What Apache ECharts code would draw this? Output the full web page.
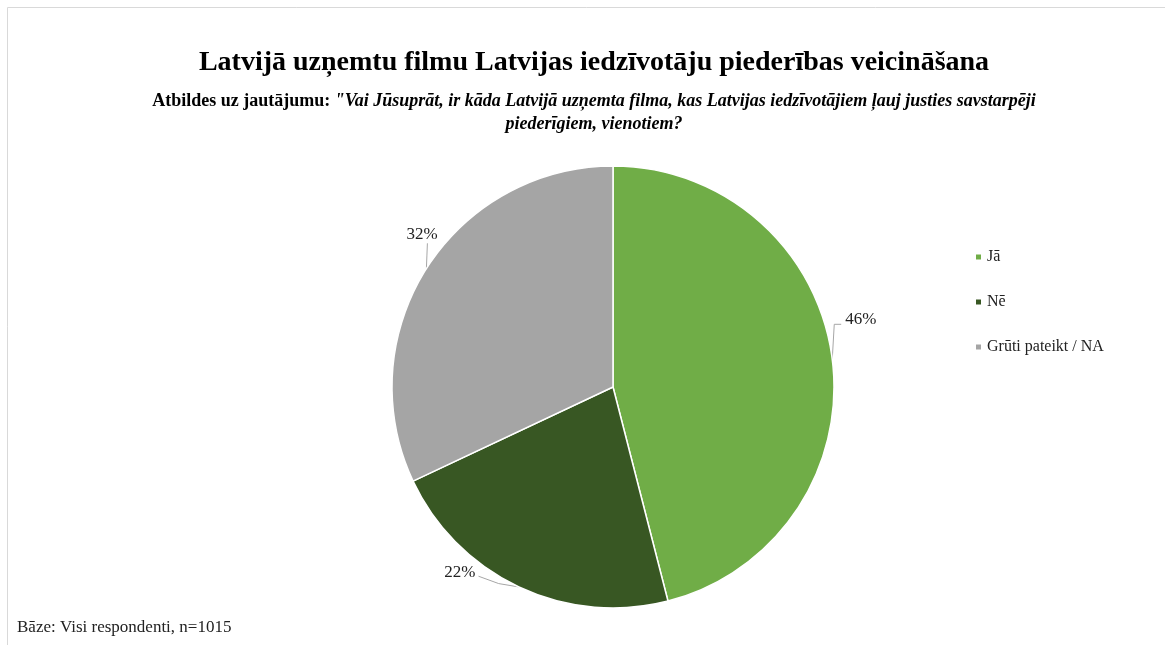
<!DOCTYPE html>
<html>
<head>
<meta charset="utf-8">
<script src="https://cdn.jsdelivr.net/npm/echarts@6/dist/echarts.min.js"></script>
<style>
html,body{margin:0;padding:0;background:#fff;}
#chart{width:1165px;height:645px;}
</style>
</head>
<body>
<div id="chart"></div>
<script>
// ---- data ----
const categories = ['Jā', 'Nē', 'Grūti pateikt / NA'];
const values = [46, 22, 32];
const titleText = 'Latvijā uzņemtu filmu Latvijas iedzīvotāju piederības veicināšana';
const subtitlePrefix = 'Atbildes uz jautājumu: ';
const subtitleQuote1 = '"Vai Jūsuprāt, ir kāda Latvijā uzņemta filma, kas Latvijas iedzīvotājiem ļauj justies savstarpēji';
const subtitleQuote2 = 'piederīgiem, vienotiem?';
const footnote = 'Bāze: Visi respondenti, n=1015';

// ---- styling ----
const colors = ['#70AD47', '#385723', '#A5A5A5'];
const serif = '"Liberation Serif", "Times New Roman", serif';
// label nudges relative to ECharts' default outside position, and leader-line style per slice
const labelNudge = [[-10, -39], [-25, -22], [33, -30]];
const leaderKind = ['up-right', 'left', 'up'];

function leaderPoints(kind, p0, r) {
  const cy = r.y + r.height / 2;
  if (kind === 'up-right') {
    return [p0, [p0[0] + 2, cy + 5], [r.x - 4, cy + 5]];
  } else if (kind === 'up') {
    return [p0, [p0[0] + 0.5, (p0[1] + cy + 9) / 2], [p0[0] + 1, cy + 9]];
  }
  return [p0, [(p0[0] + r.x + r.width + 3) / 2, (p0[1] + cy + 4) / 2 + 2], [r.x + r.width + 3, cy + 4]];
}

const chart = echarts.init(document.getElementById('chart'), null, {renderer: 'canvas'});
chart.setOption({
  animation: false,
  color: colors,
  legend: {
    orient: 'vertical',
    left: 969,
    top: 244,
    itemWidth: 7,
    itemHeight: 7,
    itemGap: 29,
    icon: 'rect',
    textStyle: {fontFamily: serif, fontSize: 16, color: '#222'},
    data: categories
  },
  graphic: [
    {type: 'line', shape: {x1: 7.5, y1: 7.5, x2: 1165, y2: 7.5}, style: {stroke: '#d9d9d9', lineWidth: 1}},
    {type: 'line', shape: {x1: 7.5, y1: 7.5, x2: 7.5, y2: 645}, style: {stroke: '#d9d9d9', lineWidth: 1}},
    {type: 'text', x: 594, y: 63, style: {text: titleText, align: 'center', verticalAlign: 'middle', font: 'bold 28px ' + serif, fill: '#000'}},
    {type: 'text', x: 594, y: 101, style: {
      text: '{b|' + subtitlePrefix + '}{bi|' + subtitleQuote1 + '}',
      align: 'center', verticalAlign: 'middle',
      rich: {
        b: {fontFamily: serif, fontSize: 18, fontWeight: 'bold', fill: '#000'},
        bi: {fontFamily: serif, fontSize: 18, fontWeight: 'bold', fontStyle: 'italic', fill: '#000'}
      }
    }},
    {type: 'text', x: 594, y: 124, style: {text: subtitleQuote2, align: 'center', verticalAlign: 'middle', font: 'italic bold 18px ' + serif, fill: '#000'}},
    {type: 'text', x: 17, y: 628, style: {text: footnote, align: 'left', verticalAlign: 'middle', font: '17px ' + serif, fill: '#222'}}
  ],
  series: [{
    type: 'pie',
    center: [613, 387],
    radius: 221,
    startAngle: 90,
    clockwise: true,
    avoidLabelOverlap: false,
    itemStyle: {borderColor: '#fff', borderWidth: 1.5},
    label: {
      show: true,
      position: 'outside',
      formatter: '{d}%',
      fontFamily: serif,
      fontSize: 17,
      color: '#222'
    },
    labelLine: {show: true, length: 8, length2: 10, lineStyle: {color: '#a6a6a6', width: 1}},
    labelLayout: function (params) {
      const i = params.dataIndex;
      const n = labelNudge[i];
      const lr = params.labelRect;
      const r = {x: lr.x + n[0], y: lr.y + n[1], width: lr.width, height: lr.height};
      const res = {dx: n[0], dy: n[1]};
      if (params.labelLinePoints && params.labelLinePoints.length) {
        const p0 = params.labelLinePoints[0];
        res.labelLinePoints = leaderPoints(leaderKind[i], [p0[0], p0[1]], r);
      }
      return res;
    },
    emphasis: {disabled: true},
    data: categories.map((c, i) => ({name: c, value: values[i]}))
  }]
});
</script>
</body>
</html>
